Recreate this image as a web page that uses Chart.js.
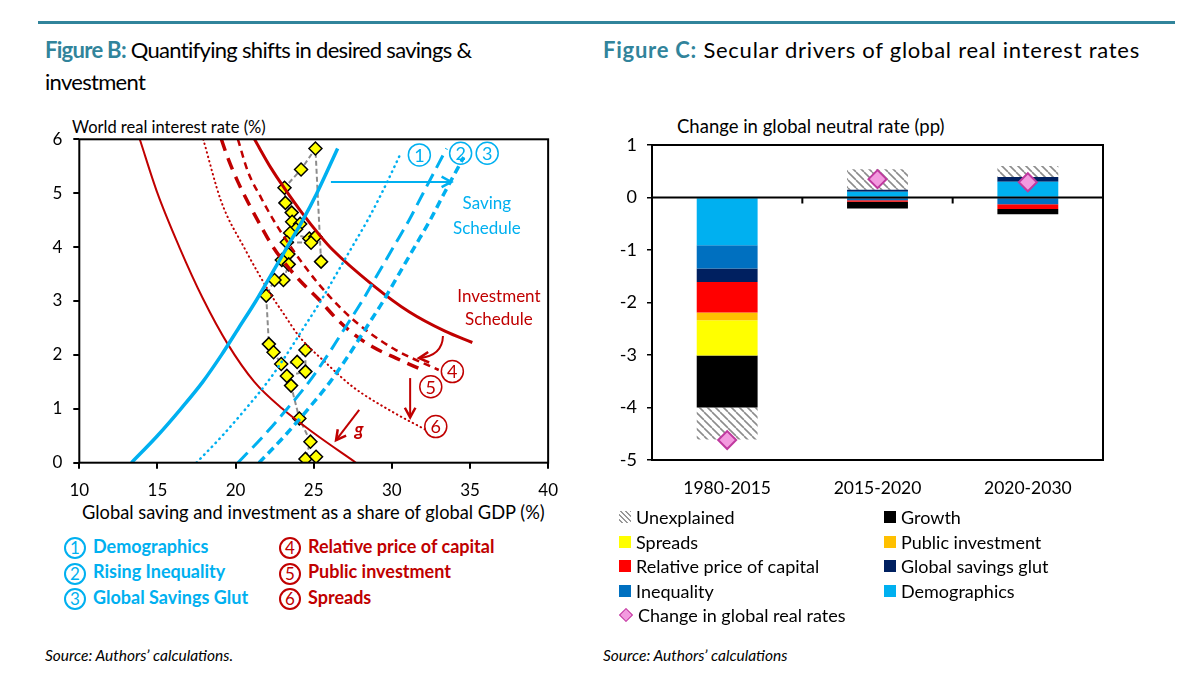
<!DOCTYPE html>
<html lang="en">

<head>
  <meta charset="UTF-8">
  <meta name="viewport" content="width=device-width, initial-scale=1.0">
  <title>Figures B and C | Savings, investment and real rates</title>
  <script src="https://cdn.jsdelivr.net/npm/chart.js"></script>
  <style>
    body { margin: 0; background: #fff; font-family: Lato, "Open Sans", sans-serif; color: #000; }
    .pagina { position: relative; width: 1198px; height: 686px; overflow: hidden; background: #fff; }
    .linha_topo { position: absolute; left: 38px; top: 21px; width: 1137px; height: 3px; background: #31849B; }
    .titulo { position: absolute; top: 34px; font-size: 22px; line-height: 32px; white-space: nowrap; }
    .titulo b { color: #31849B; }
    .txt_eixo { position: absolute; white-space: nowrap; line-height: 20px; }
    .caixa_b { position: absolute; left: 30px; top: 100px; width: 540px; height: 430px; }
    .caixa_c { position: absolute; left: 600px; top: 100px; width: 540px; height: 420px; }
    .legenda_b { position: absolute; top: 534px; font-size: 18px; font-weight: bold; line-height: 24px; white-space: nowrap; }
    .circulo { display: inline-block; width: 22px; height: 22px; border: 2px solid; border-radius: 50%; box-sizing: border-box;
      text-align: center; line-height: 18px; font-size: 17px; font-weight: normal; margin-right: 7px; vertical-align: middle; }
    .legenda_c { position: absolute; left: 619px; top: 505px; display: grid; grid-template-columns: 265px 260px;
      font-size: 18px; line-height: 24.5px; white-space: nowrap; }
    .item_c { display: flex; align-items: center; }
    .quadrado { width: 12px; height: 12px; margin-right: 5px; flex: none; }
    .fonte { position: absolute; top: 646px; font-size: 15.5px; font-style: italic; }
  </style>
</head>

<body>
  <div class="pagina">
    <div class="linha_topo"></div>

    <div class="titulo" style="left:45px; letter-spacing:-0.7px"><b>Figure B:</b> Quantifying shifts in desired savings &amp;<br>investment</div>
    <div class="titulo" style="left:603px; letter-spacing:0.75px"><b>Figure C:</b> Secular drivers of global real interest rates</div>

    <div class="txt_eixo" style="left:72px; top:117px; font-size:16.5px">World real interest rate (%)</div>
    <div class="txt_eixo" style="left:82px; top:502px; font-size:18.3px">Global saving and investment as a share of global GDP (%)</div>
    <div class="txt_eixo" style="left:677px; top:116px; font-size:18.5px">Change in global neutral rate (pp)</div>

    <div class="caixa_b"><canvas id="grafico_b"></canvas></div>
    <div class="caixa_c"><canvas id="grafico_c"></canvas></div>

    <div class="legenda_b" style="left:64px; color:#00B0F0">
      <div><span class="circulo">1</span>Demographics</div>
      <div><span class="circulo">2</span>Rising Inequality</div>
      <div><span class="circulo">3</span>Global Savings Glut</div>
    </div>
    <div class="legenda_b" style="left:279px; color:#C00000">
      <div><span class="circulo">4</span>Relative price of capital</div>
      <div><span class="circulo">5</span>Public investment</div>
      <div><span class="circulo">6</span>Spreads</div>
    </div>

    <div class="legenda_c" id="legenda_c"></div>

    <div class="fonte" style="left:45px">Source: Authors’ calculations.</div>
    <div class="fonte" style="left:603px">Source: Authors’ calculations</div>
  </div>
</body>

</html>

<script>

  // ---------- Figure B: curves ----------
  // saving schedules (blue), x = share of GDP, y = real rate
  var poup_base_x = [13.34, 15.0, 16.5, 17.9, 19.1, 20.2, 21.3, 22.3, 23.3, 24.3, 25.2, 26.53]
  var poup_base_y = [0, 0.5, 1, 1.5, 2, 2.5, 3, 3.5, 4, 4.5, 5, 5.83]
  var poup_demo_x = [17.5, 19.15, 20.65, 22.05, 23.25, 24.35, 25.45, 26.45, 27.45, 28.45, 29.35, 30.6]
  var poup_demo_y = [0, 0.5, 1, 1.5, 2, 2.5, 3, 3.5, 4, 4.5, 5, 5.76]
  var poup_desig_x = [20.15, 21.8, 23.3, 24.7, 25.9, 27.0, 28.1, 29.1, 30.1, 31.1, 32.0, 33.5]
  var poup_desig_y = [0, 0.5, 1, 1.5, 2, 2.5, 3, 3.5, 4, 4.5, 5, 5.83]
  var poup_glut_x = [21.5, 23.15, 24.65, 26.05, 27.25, 28.35, 29.45, 30.45, 31.45, 32.45, 33.35, 34.6]
  var poup_glut_y = [0, 0.5, 1, 1.5, 2, 2.5, 3, 3.5, 4, 4.5, 5, 5.67]

  // investment schedules (red)
  var inv_base_x = [21.21, 22.28, 23.13, 24.19, 25.47, 26.21, 28.76, 31.1, 33.4, 35.15]
  var inv_base_y = [6.0, 5.46, 5.09, 4.66, 4.19, 3.95, 3.3, 2.8, 2.44, 2.23]
  var inv_preco_x = [20.15, 20.79, 21.64, 22.49, 23.45, 24.51, 25.36, 26.86, 28.34, 30.26, 33.0]
  var inv_preco_y = [6.0, 5.40, 4.91, 4.47, 4.04, 3.61, 3.30, 2.83, 2.46, 2.09, 1.72]
  var inv_publico_x = [19.09, 19.51, 20.15, 20.89, 21.64, 22.38, 23.24, 24.08, 25.36, 26.43, 27.49, 28.76, 30.26, 31.96]
  var inv_publico_y = [6.0, 5.65, 5.21, 4.78, 4.38, 4.01, 3.67, 3.39, 3.02, 2.68, 2.40, 2.15, 1.94, 1.72]
  var inv_spreads_x = [17.93, 19.09, 20.57, 22.28, 23.13, 24.08, 25.79, 27.49, 30.0, 32.17]
  var inv_spreads_y = [6.0, 4.84, 3.98, 3.11, 2.74, 2.34, 1.85, 1.41, 0.95, 0.61]
  var inv_g_x = [13.87, 15.0, 16.4, 17.9, 19.5, 21.2, 23.0, 25.0, 27.7]
  var inv_g_y = [6.0, 5.0, 4.0, 3.05, 2.2, 1.5, 1.0, 0.55, 0.0]

  // observed points (yellow diamonds)
  var obs_x = [25.47, 25.11, 24.19, 23.13, 23.19, 23.59, 23.62, 24.13, 23.87, 23.49, 24.72, 25.11, 24.83, 23.28, 23.38, 22.96,
    23.40, 23.06, 22.49, 21.96, 22.13, 22.43, 22.92, 23.94, 24.47, 24.47, 23.28, 23.55, 24.08, 24.79, 24.47, 25.15]
  var obs_y = [3.73, 5.83, 5.44, 5.10, 4.82, 4.64, 4.47, 4.43, 4.33, 4.26, 4.16, 4.19, 4.08, 4.09, 3.87, 3.76,
    3.68, 3.39, 3.39, 3.10, 2.20, 2.05, 1.83, 1.87, 2.09, 1.69, 1.61, 1.43, 0.82, 0.39, 0.07, 0.11]

  var ticks_b_x = [10, 15, 20, 25, 30, 35, 40]
  var ticks_b_y = [0, 1, 2, 3, 4, 5, 6]

  // ---------- Figure C: drivers (pp) ----------
  var periodos = ['1980-2015', '2015-2020', '2020-2030']
  var demografia = [-0.91, 0.11, 0.30]
  var desigualdade = [-0.44, -0.05, -0.13]
  var excesso_poupanca = [-0.26, 0.04, 0.09]
  var preco_capital = [-0.58, -0.03, -0.09]
  var invest_publico = [-0.15, 0, 0]
  var spreads = [-0.67, 0, 0]
  var crescimento = [-0.99, -0.13, -0.10]
  var inexplicado = [-0.61, 0.39, 0.21]
  var variacao_juros = [-4.62, 0.35, 0.29]

  var AZUL = '#00B0F0'
  var VERMELHO = '#C00000'

  Chart.defaults.font.family = 'Lato, "Open Sans", sans-serif'
  Chart.defaults.color = '#000'

  function pontos(xs, ys) {
    return xs.map(function (v, i) { return { x: v, y: ys[i] } })
  }

  function curva(xs, ys, cor, largura, tracejado) {
    return {
      data: pontos(xs, ys),
      showLine: true,
      borderColor: cor,
      borderWidth: largura,
      borderDash: tracejado,
      borderCapStyle: tracejado.length && tracejado[0] < 2 ? 'round' : 'butt',
      pointRadius: 0,
      cubicInterpolationMode: 'monotone'
    }
  }

  function seta(ctx, x1, y1, x2, y2, cor, cx, cy) {
    ctx.save()
    ctx.strokeStyle = cor
    ctx.lineWidth = 2
    ctx.beginPath()
    ctx.moveTo(x1, y1)
    if (cx !== undefined) ctx.quadraticCurveTo(cx, cy, x2, y2)
    else ctx.lineTo(x2, y2)
    ctx.stroke()
    var ox = cx !== undefined ? cx : x1
    var oy = cy !== undefined ? cy : y1
    var ang = Math.atan2(y2 - oy, x2 - ox)
    ctx.lineWidth = 2.5
    ctx.beginPath()
    ctx.moveTo(x2 - 11 * Math.cos(ang - 0.5), y2 - 11 * Math.sin(ang - 0.5))
    ctx.lineTo(x2, y2)
    ctx.lineTo(x2 - 11 * Math.cos(ang + 0.5), y2 - 11 * Math.sin(ang + 0.5))
    ctx.stroke()
    ctx.restore()
  }

  function numero(ctx, x, y, txt, cor) {
    ctx.save()
    ctx.strokeStyle = cor
    ctx.lineWidth = 1.5
    ctx.beginPath()
    ctx.arc(x, y, 11, 0, Math.PI * 2)
    ctx.stroke()
    ctx.fillStyle = cor
    ctx.font = '18px Lato, sans-serif'
    ctx.textAlign = 'center'
    ctx.textBaseline = 'middle'
    ctx.fillText(txt, x, y + 1)
    ctx.restore()
  }

  // frame + notes of figure B
  var notas_b = {
    id: 'notas_b',
    afterDatasetsDraw(chart) {
      var ctx = chart.ctx
      var a = chart.chartArea
      var sx = chart.scales.x
      var sy = chart.scales.y
      function px(v) { return sx.getPixelForValue(v) }
      function py(v) { return sy.getPixelForValue(v) }

      ctx.save()
      ctx.strokeStyle = '#000'
      ctx.lineWidth = 2
      ctx.strokeRect(a.left, a.top, a.right - a.left, a.bottom - a.top)

      seta(ctx, px(26.1), py(5.21), px(33.8), py(5.21), AZUL)
      seta(ctx, px(33.27), py(2.35), px(31.74), py(1.94), VERMELHO, px(33.23), py(1.98))
      seta(ctx, px(31.17), py(1.57), px(31.17), py(0.84), VERMELHO)
      seta(ctx, px(27.91), py(0.98), px(26.43), py(0.42), VERMELHO)

      numero(ctx, px(31.76), py(5.71), '1', AZUL)
      numero(ctx, px(34.4), py(5.74), '2', AZUL)
      numero(ctx, px(36.1), py(5.74), '3', AZUL)
      numero(ctx, px(33.87), py(1.69), '4', VERMELHO)
      numero(ctx, px(32.49), py(1.41), '5', VERMELHO)
      numero(ctx, px(32.81), py(0.67), '6', VERMELHO)

      ctx.textAlign = 'center'
      ctx.textBaseline = 'middle'
      ctx.font = '17px Lato, sans-serif'
      ctx.fillStyle = AZUL
      ctx.fillText('Saving', px(36.08), py(4.80))
      ctx.fillText('Schedule', px(36.08), py(4.35))
      ctx.fillStyle = VERMELHO
      ctx.fillText('Investment', px(36.85), py(3.09))
      ctx.fillText('Schedule', px(36.85), py(2.65))
      ctx.font = 'italic bold 18px Lato, sans-serif'
      ctx.fillText('g', px(27.9), py(0.6))
      ctx.restore()
    }
  }

  new Chart(document.getElementById('grafico_b'), {
    type: 'scatter',
    data: {
      datasets: [
        curva(poup_base_x, poup_base_y, AZUL, 3.5, []),
        curva(poup_demo_x, poup_demo_y, AZUL, 2.5, [0.5, 5]),
        curva(poup_desig_x, poup_desig_y, AZUL, 3, [14, 7]),
        curva(poup_glut_x, poup_glut_y, AZUL, 3.5, [8, 5]),
        curva(inv_base_x, inv_base_y, VERMELHO, 3, []),
        curva(inv_preco_x, inv_preco_y, VERMELHO, 2.5, [7, 5]),
        curva(inv_publico_x, inv_publico_y, VERMELHO, 3.5, [12, 8]),
        curva(inv_spreads_x, inv_spreads_y, VERMELHO, 2, [0.5, 4]),
        curva(inv_g_x, inv_g_y, VERMELHO, 2, []),
        {
          data: pontos(obs_x, obs_y),
          showLine: true,
          borderColor: '#8C8C8C',
          borderWidth: 2,
          borderDash: [5, 3],
          tension: 0,
          pointStyle: 'rectRot',
          pointRadius: 6.5,
          pointBackgroundColor: '#FFFF00',
          pointBorderColor: '#000',
          pointBorderWidth: 1.5
        }
      ]
    },
    options: {
      responsive: true,
      maintainAspectRatio: false,
      animation: false,
      events: [],
      layout: { padding: { top: 39.3, right: 20.6, left: 0, bottom: 0 } },
      plugins: { legend: { display: false }, tooltip: { enabled: false } },
      scales: {
        x: {
          type: 'linear', min: ticks_b_x[0], max: ticks_b_x[ticks_b_x.length - 1],
          afterBuildTicks(s) { s.ticks = ticks_b_x.map(function (v) { return { value: v } }) },
          afterFit(s) { s.height = 67.3 },
          ticks: { font: { size: 17 }, padding: 12 },
          grid: { drawOnChartArea: false, tickLength: 6, color: '#000', lineWidth: 2 },
          border: { display: false }
        },
        y: {
          type: 'linear', min: ticks_b_y[0], max: ticks_b_y[ticks_b_y.length - 1],
          afterBuildTicks(s) { s.ticks = ticks_b_y.map(function (v) { return { value: v } }) },
          afterFit(s) { s.width = 49.3 },
          ticks: { font: { size: 17 }, padding: 11 },
          grid: { drawOnChartArea: false, tickLength: 6, color: '#000', lineWidth: 2 },
          border: { display: false }
        }
      }
    },
    plugins: [notas_b]
  })

  // ---------- Figure C ----------
  function criar_hachura() {
    var c = document.createElement('canvas')
    c.width = 8
    c.height = 8
    var g = c.getContext('2d')
    g.fillStyle = '#fff'
    g.fillRect(0, 0, 8, 8)
    g.strokeStyle = '#8C8C8C'
    g.lineWidth = 1.6
    for (var k = -1; k <= 1; k++) {
      g.beginPath()
      g.moveTo(k * 8, 0)
      g.lineTo(k * 8 + 8, 8)
      g.stroke()
    }
    return g.createPattern(c, 'repeat')
  }

  var hachura = criar_hachura()

  function barra(nome, valores, cor) {
    return {
      type: 'bar',
      label: nome,
      data: valores,
      backgroundColor: cor,
      borderWidth: 0,
      barPercentage: 0.405,
      categoryPercentage: 1,
      order: 1
    }
  }

  var notas_c = {
    id: 'notas_c',
    afterDatasetsDraw(chart) {
      var ctx = chart.ctx
      var a = chart.chartArea
      var sx = chart.scales.x
      var zero = chart.scales.y.getPixelForValue(0)
      ctx.save()
      ctx.strokeStyle = '#000'
      ctx.lineWidth = 2
      ctx.strokeRect(a.left, a.top, a.right - a.left, a.bottom - a.top)
      ctx.beginPath()
      ctx.moveTo(a.left, zero)
      ctx.lineTo(a.right, zero)
      for (var i = 0; i < periodos.length - 1; i++) {
        var meio = (sx.getPixelForValue(i) + sx.getPixelForValue(i + 1)) / 2
        ctx.moveTo(meio, zero)
        ctx.lineTo(meio, zero + 6)
      }
      ctx.stroke()
      ctx.restore()
    }
  }

  var grafico_c = new Chart(document.getElementById('grafico_c'), {
    type: 'bar',
    data: {
      labels: periodos,
      datasets: [
        barra('Demographics', demografia, '#00B0F0'),
        barra('Inequality', desigualdade, '#0070C0'),
        barra('Global savings glut', excesso_poupanca, '#002060'),
        barra('Relative price of capital', preco_capital, '#FF0000'),
        barra('Public investment', invest_publico, '#FFC000'),
        barra('Spreads', spreads, '#FFFF00'),
        barra('Growth', crescimento, '#000000'),
        barra('Unexplained', inexplicado, hachura),
        {
          type: 'line',
          label: 'Change in global real rates',
          data: variacao_juros,
          showLine: false,
          stack: 'marcador',
          order: 0,
          pointStyle: 'rectRot',
          pointRadius: 9,
          pointBackgroundColor: '#F39ADF',
          pointBorderColor: '#C0399F',
          pointBorderWidth: 2
        }
      ]
    },
    options: {
      responsive: true,
      maintainAspectRatio: false,
      animation: false,
      events: [],
      layout: { padding: { top: 45, right: 37, left: 0, bottom: 0 } },
      plugins: { legend: { display: false }, tooltip: { enabled: false } },
      scales: {
        x: {
          stacked: true,
          afterFit(s) { s.height = 60 },
          ticks: { font: { size: 17.5 }, padding: 10 },
          grid: { display: false },
          border: { display: false }
        },
        y: {
          stacked: true,
          min: -5,
          max: 1,
          afterFit(s) { s.width = 52 },
          ticks: { stepSize: 1, font: { size: 18 }, padding: 10 },
          grid: { drawOnChartArea: false, tickLength: 5, color: '#000', lineWidth: 1.5 },
          border: { display: false }
        }
      }
    },
    plugins: [notas_c]
  })

  // legend of figure C, two columns like the original
  function montar_legenda() {
    var coluna_1 = ['Unexplained', 'Spreads', 'Relative price of capital', 'Inequality', 'Change in global real rates']
    var coluna_2 = ['Growth', 'Public investment', 'Global savings glut', 'Demographics']
    var ordem = []
    for (var i = 0; i < coluna_1.length; i++) {
      ordem.push(coluna_1[i])
      if (coluna_2[i]) ordem.push(coluna_2[i])
    }
    var caixa = document.getElementById('legenda_c')
    ordem.forEach(function (nome) {
      var ds = grafico_c.data.datasets.find(function (d) { return d.label == nome })
      var item = document.createElement('div')
      item.className = 'item_c'
      var quadrado = document.createElement('span')
      quadrado.className = 'quadrado'
      if (nome == 'Unexplained') {
        quadrado.style.background = 'repeating-linear-gradient(45deg, #fff 0 2px, #999 2px 3.5px)'
      } else if (ds.type == 'line') {
        quadrado.style.width = '8px'
        quadrado.style.height = '8px'
        quadrado.style.margin = '0 7px 0 2px'
        quadrado.style.background = ds.pointBackgroundColor
        quadrado.style.border = '1.5px solid ' + ds.pointBorderColor
        quadrado.style.transform = 'rotate(45deg)'
      } else {
        quadrado.style.background = ds.backgroundColor
      }
      item.appendChild(quadrado)
      item.appendChild(document.createTextNode(nome))
      caixa.appendChild(item)
    })
  }

  montar_legenda()
</script>
